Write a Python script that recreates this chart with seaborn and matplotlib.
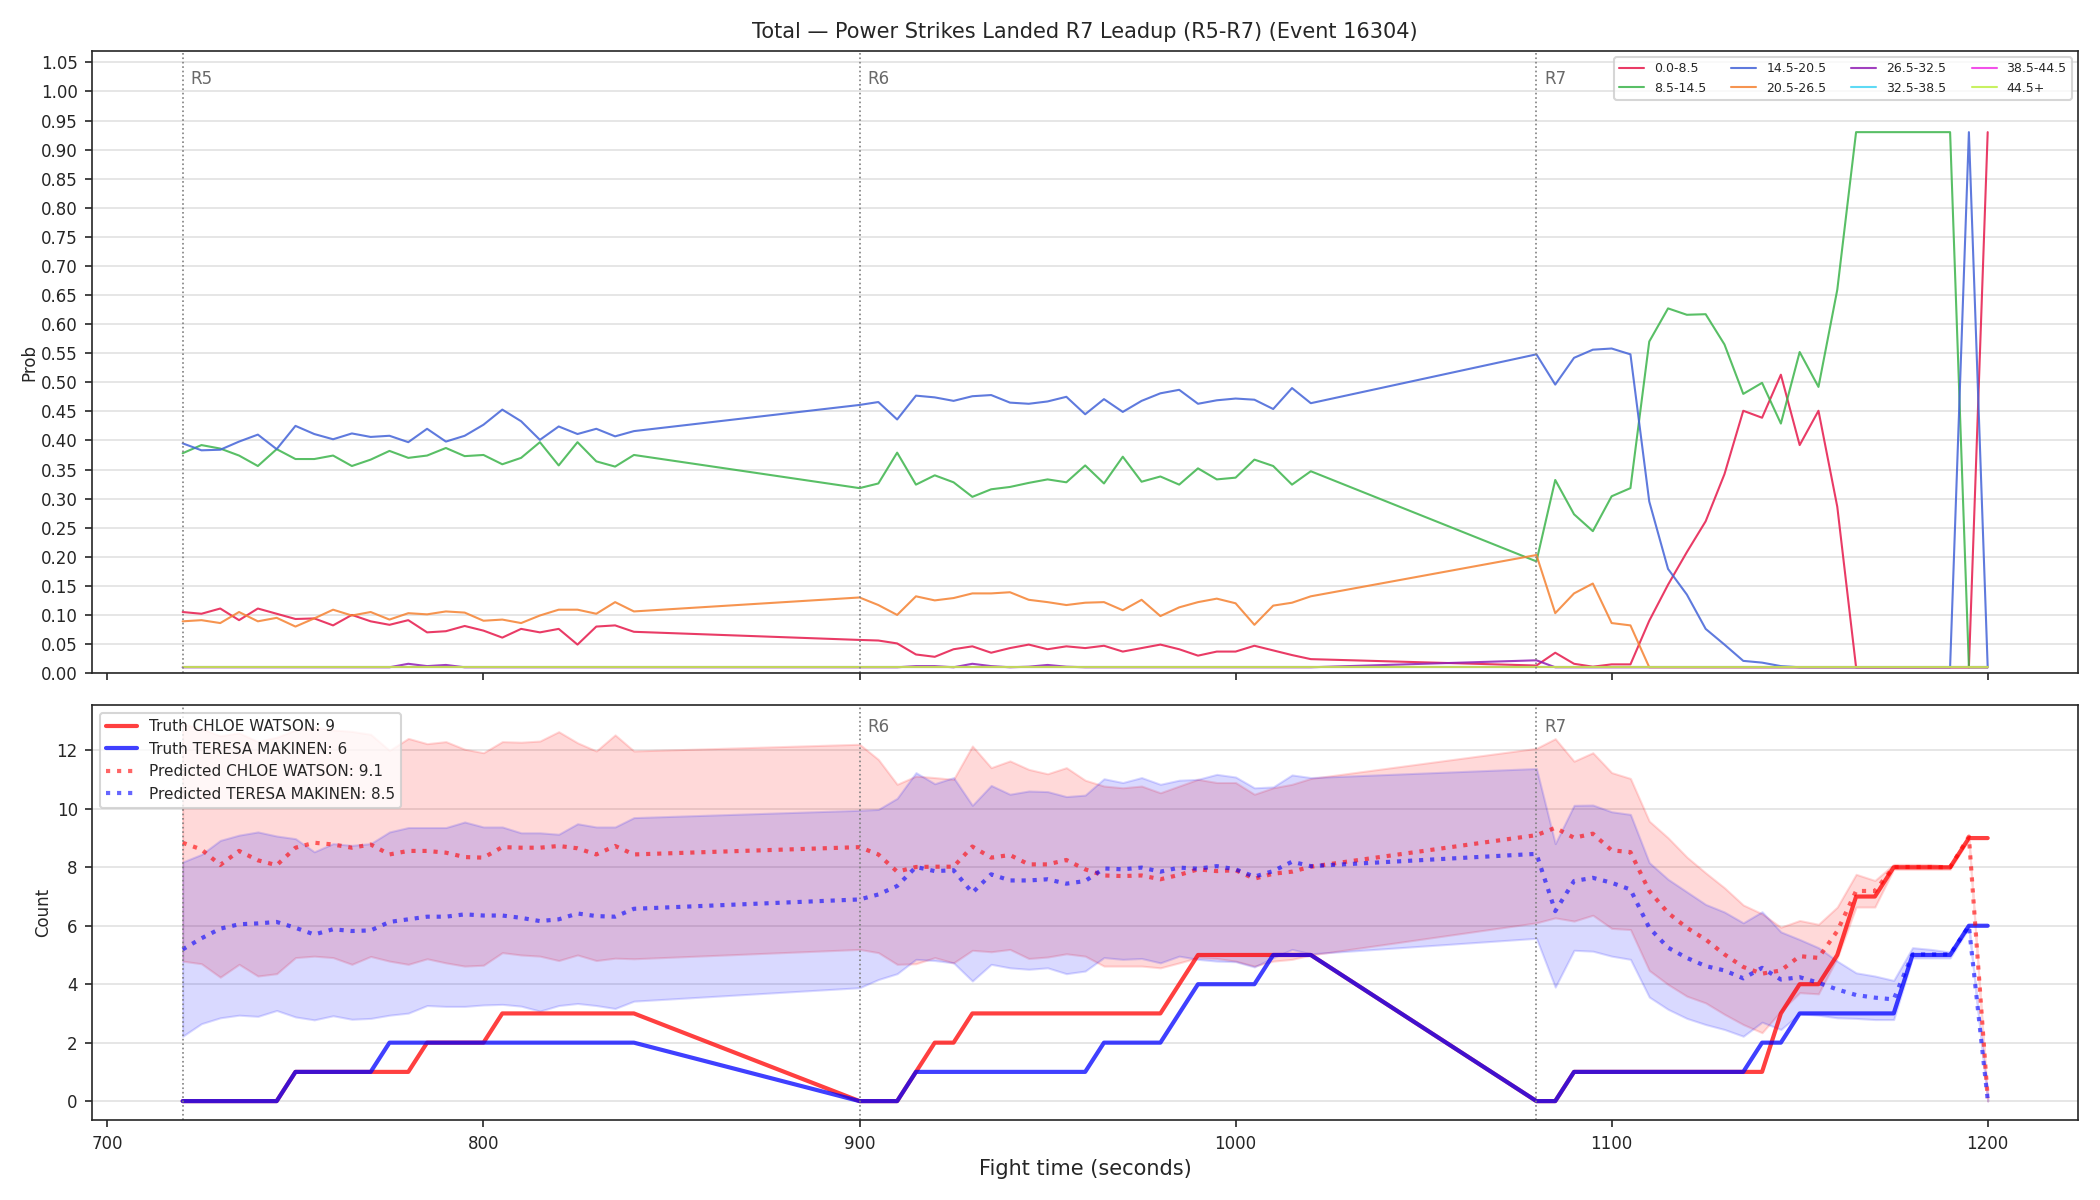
import numpy as np
import pandas as pd
import seaborn as sns
import matplotlib.pyplot as plt

# snapshot times (fight seconds) for rounds 5, 6 and 7
t_r5 = [720, 725, 730, 735, 740, 745, 750, 755, 760, 765, 770, 775, 780,
        785, 790, 795, 800, 805, 810, 815, 820, 825, 830, 835, 840]
t_r6 = [900, 905, 910, 915, 920, 925, 930, 935, 940, 945, 950, 955, 960,
        965, 970, 975, 980, 985, 990, 995, 1000, 1005, 1010, 1015, 1020]
t_r7 = [1080, 1085, 1090, 1095, 1100, 1105, 1110, 1115, 1120, 1125, 1130, 1135, 1140,
        1145, 1150, 1155, 1160, 1165, 1170, 1175, 1180, 1185, 1190, 1195, 1200]
times = t_r5 + t_r6 + t_r7

round_names = ["R5", "R6", "R7"]
round_starts = [720, 900, 1080]

# --- bin probabilities (top panel) ---
bins = ["0.0-8.5", "8.5-14.5", "14.5-20.5", "20.5-26.5",
        "26.5-32.5", "32.5-38.5", "38.5-44.5", "44.5+"]
bin_colors = ["#e6194b", "#3cb44b", "#4363d8", "#f58231",
              "#911eb4", "#42d4f4", "#f032e6", "#bfef45"]

p_0_8 = [0.105, 0.102, 0.111, 0.091, 0.111, 0.102, 0.093, 0.094, 0.082, 0.100, 0.089, 0.083, 0.091,
         0.070, 0.072, 0.081, 0.073, 0.061, 0.076, 0.070, 0.076, 0.049, 0.080, 0.082, 0.071,
         0.057, 0.056, 0.051, 0.032, 0.028, 0.041, 0.046, 0.035, 0.043, 0.049, 0.041, 0.046, 0.043,
         0.047, 0.037, 0.043, 0.049, 0.041, 0.030, 0.037, 0.037, 0.047, 0.039, 0.031, 0.024,
         0.013, 0.035, 0.016, 0.011, 0.015, 0.015, 0.090, 0.152, 0.208, 0.261, 0.342, 0.451, 0.439,
         0.513, 0.392, 0.451, 0.286, 0.010, 0.010, 0.010, 0.010, 0.010, 0.010, 0.010, 0.930]
p_8_14 = [0.378, 0.392, 0.386, 0.374, 0.356, 0.385, 0.368, 0.368, 0.374, 0.356, 0.367, 0.382, 0.370,
          0.374, 0.387, 0.373, 0.375, 0.359, 0.370, 0.397, 0.357, 0.397, 0.364, 0.355, 0.375,
          0.318, 0.326, 0.379, 0.324, 0.340, 0.328, 0.303, 0.316, 0.320, 0.327, 0.333, 0.328, 0.357,
          0.326, 0.372, 0.329, 0.338, 0.324, 0.352, 0.333, 0.336, 0.367, 0.356, 0.324, 0.347,
          0.192, 0.332, 0.273, 0.244, 0.304, 0.318, 0.570, 0.627, 0.616, 0.617, 0.565, 0.480, 0.499,
          0.429, 0.552, 0.492, 0.659, 0.930, 0.930, 0.930, 0.930, 0.930, 0.930, 0.010, 0.010]
p_14_20 = [0.395, 0.383, 0.384, 0.398, 0.410, 0.385, 0.425, 0.411, 0.402, 0.412, 0.406, 0.408, 0.397,
           0.420, 0.398, 0.408, 0.427, 0.453, 0.433, 0.401, 0.424, 0.411, 0.420, 0.407, 0.416,
           0.461, 0.466, 0.436, 0.477, 0.474, 0.468, 0.476, 0.478, 0.465, 0.463, 0.467, 0.475, 0.445,
           0.471, 0.449, 0.468, 0.481, 0.487, 0.463, 0.469, 0.472, 0.470, 0.454, 0.490, 0.464,
           0.548, 0.496, 0.542, 0.556, 0.558, 0.548, 0.295, 0.179, 0.135, 0.076, 0.049, 0.021, 0.018,
           0.012, 0.010, 0.010, 0.010, 0.010, 0.010, 0.010, 0.010, 0.010, 0.010, 0.930, 0.010]
p_20_26 = [0.089, 0.091, 0.086, 0.105, 0.089, 0.095, 0.080, 0.094, 0.109, 0.099, 0.105, 0.092, 0.103,
           0.101, 0.106, 0.104, 0.090, 0.092, 0.086, 0.099, 0.109, 0.109, 0.102, 0.122, 0.106,
           0.130, 0.117, 0.100, 0.132, 0.125, 0.129, 0.137, 0.137, 0.139, 0.126, 0.122, 0.117, 0.121,
           0.122, 0.108, 0.126, 0.098, 0.113, 0.122, 0.128, 0.120, 0.083, 0.116, 0.121, 0.132,
           0.203, 0.103, 0.137, 0.154, 0.086, 0.082, 0.010, 0.010, 0.010, 0.010, 0.010, 0.010, 0.010,
           0.010, 0.010, 0.010, 0.010, 0.010, 0.010, 0.010, 0.010, 0.010, 0.010, 0.010, 0.010]
p_26_32 = [0.010, 0.010, 0.010, 0.010, 0.010, 0.010, 0.010, 0.010, 0.010, 0.010, 0.010, 0.010, 0.016,
           0.012, 0.014, 0.010, 0.010, 0.010, 0.010, 0.010, 0.010, 0.010, 0.010, 0.010, 0.010,
           0.010, 0.010, 0.010, 0.012, 0.012, 0.010, 0.016, 0.012, 0.010, 0.011, 0.014, 0.011, 0.010,
           0.010, 0.010, 0.010, 0.010, 0.010, 0.010, 0.010, 0.010, 0.010, 0.010, 0.010, 0.010,
           0.022, 0.010, 0.010, 0.010, 0.010, 0.010, 0.010, 0.010, 0.010, 0.010, 0.010, 0.010, 0.010,
           0.010, 0.010, 0.010, 0.010, 0.010, 0.010, 0.010, 0.010, 0.010, 0.010, 0.010, 0.010]
# the three highest bins sit flat on the 0.01 floor the whole time
p_32_38 = [0.01] * len(times)
p_38_44 = [0.01] * len(times)
p_44_up = [0.01] * len(times)

# --- counts (bottom panel) ---
truth_chloe = [0, 0, 0, 0, 0, 0, 1, 1, 1, 1, 1, 1, 1, 2, 2, 2, 2, 3, 3, 3, 3, 3, 3, 3, 3,
               0, 0, 0, 1, 2, 2, 3, 3, 3, 3, 3, 3, 3, 3, 3, 3, 3, 4, 5, 5, 5, 5, 5, 5, 5,
               0, 0, 1, 1, 1, 1, 1, 1, 1, 1, 1, 1, 1, 3, 4, 4, 5, 7, 7, 8, 8, 8, 8, 9, 9]
truth_teresa = [0, 0, 0, 0, 0, 0, 1, 1, 1, 1, 1, 2, 2, 2, 2, 2, 2, 2, 2, 2, 2, 2, 2, 2, 2,
                0, 0, 0, 1, 1, 1, 1, 1, 1, 1, 1, 1, 1, 2, 2, 2, 2, 3, 4, 4, 4, 4, 5, 5, 5,
                0, 0, 1, 1, 1, 1, 1, 1, 1, 1, 1, 1, 2, 2, 3, 3, 3, 3, 3, 3, 5, 5, 5, 6, 6]
pred_chloe = [8.84, 8.61, 8.08, 8.56, 8.24, 8.07, 8.67, 8.84, 8.78, 8.67, 8.78, 8.44, 8.56,
              8.56, 8.50, 8.35, 8.33, 8.69, 8.67, 8.67, 8.73, 8.65, 8.44, 8.73, 8.44,
              8.69, 8.44, 7.85, 8.01, 8.02, 8.02, 8.71, 8.33, 8.42, 8.10, 8.10, 8.25, 7.93,
              7.72, 7.70, 7.72, 7.59, 7.74, 7.93, 7.87, 7.90, 7.61, 7.78, 7.85, 8.02,
              9.10, 9.35, 9.01, 9.15, 8.58, 8.52, 7.19, 6.44, 5.93, 5.53, 5.02, 4.59, 4.36,
              4.47, 4.96, 4.90, 5.82, 7.19, 7.19, 8.01, 8.01, 8.01, 8.00, 9.05, 0.10]
pred_teresa = [5.19, 5.57, 5.90, 6.05, 6.08, 6.13, 5.93, 5.70, 5.88, 5.82, 5.84, 6.13, 6.22,
               6.31, 6.31, 6.39, 6.35, 6.35, 6.27, 6.16, 6.22, 6.42, 6.33, 6.31, 6.58,
               6.90, 7.07, 7.36, 8.01, 7.87, 7.90, 7.13, 7.76, 7.55, 7.55, 7.59, 7.44, 7.53,
               7.96, 7.93, 7.99, 7.85, 7.99, 7.95, 8.04, 7.93, 7.68, 7.87, 8.19, 8.04,
               8.46, 6.50, 7.53, 7.64, 7.47, 7.24, 5.93, 5.25, 4.90, 4.62, 4.47, 4.20, 4.56,
               4.16, 4.24, 4.05, 3.82, 3.63, 3.54, 3.48, 5.02, 5.02, 5.02, 5.99, 0.05]
chloe_hi = [12.90, 12.75, 12.50, 12.60, 12.30, 12.45, 12.70, 12.80, 12.70, 12.65, 12.55, 12.00, 12.41,
            12.23, 12.30, 12.04, 11.92, 12.30, 12.28, 12.32, 12.64, 12.26, 11.98, 12.53, 11.98,
            12.21, 11.69, 10.84, 11.12, 11.07, 11.01, 12.15, 11.41, 11.64, 11.35, 11.20, 11.41, 10.98,
            10.78, 10.72, 10.78, 10.55, 10.78, 11.01, 10.90, 10.90, 10.50, 10.72, 10.84, 11.04,
            12.07, 12.40, 11.63, 11.92, 11.24, 11.04, 9.58, 9.01, 8.35, 7.81, 7.30, 6.71, 6.41,
            5.95, 6.18, 6.05, 6.64, 7.76, 7.55, 8.10, 8.10, 8.10, 8.04, 9.01, 0.06]
chloe_lo = [4.79, 4.70, 4.24, 4.68, 4.28, 4.36, 4.91, 4.96, 4.91, 4.68, 4.95, 4.79, 4.68,
            4.87, 4.73, 4.62, 4.65, 5.08, 5.00, 4.96, 4.81, 5.00, 4.81, 4.89, 4.87,
            5.19, 5.08, 4.68, 4.70, 4.91, 4.73, 5.16, 5.11, 5.19, 4.88, 4.93, 5.04, 4.96,
            4.62, 4.62, 4.62, 4.56, 4.73, 4.91, 4.88, 4.79, 4.62, 4.79, 4.85, 5.00,
            6.10, 6.27, 6.16, 6.36, 5.91, 5.87, 4.47, 3.99, 3.59, 3.36, 2.97, 2.62, 2.34,
            3.08, 3.71, 3.67, 4.90, 6.64, 6.64, 7.93, 7.93, 7.93, 7.93, 8.95, 0.00]
teresa_hi = [8.18, 8.44, 8.92, 9.10, 9.21, 9.07, 8.98, 8.53, 8.81, 8.75, 8.81, 9.21, 9.36,
             9.36, 9.36, 9.55, 9.38, 9.38, 9.18, 9.18, 9.13, 9.49, 9.38, 9.38, 9.70,
             9.95, 9.98, 10.36, 11.24, 10.86, 11.07, 10.12, 10.80, 10.50, 10.61, 10.59, 10.42, 10.47,
             11.03, 10.90, 11.07, 10.84, 10.98, 11.01, 11.18, 11.09, 10.72, 10.75, 11.16, 11.07,
             11.38, 8.81, 10.12, 10.13, 9.90, 9.81, 8.16, 7.59, 7.16, 6.73, 6.47, 6.10, 6.48,
             5.79, 5.53, 5.25, 4.79, 4.39, 4.28, 4.13, 5.25, 5.19, 5.10, 6.01, 0.06]
teresa_lo = [2.22, 2.65, 2.85, 2.94, 2.90, 3.10, 2.88, 2.78, 2.92, 2.80, 2.83, 2.94, 3.01,
             3.27, 3.24, 3.24, 3.29, 3.31, 3.25, 3.08, 3.27, 3.34, 3.27, 3.17, 3.42,
             3.88, 4.16, 4.36, 4.85, 4.81, 4.73, 4.11, 4.68, 4.56, 4.51, 4.56, 4.36, 4.45,
             4.91, 4.85, 4.88, 4.73, 4.96, 4.85, 4.79, 4.77, 4.59, 4.91, 5.19, 5.04,
             5.57, 3.90, 5.16, 5.13, 4.96, 4.85, 3.56, 3.14, 2.83, 2.62, 2.45, 2.22, 2.70,
             2.45, 2.99, 2.94, 2.85, 2.83, 2.79, 2.79, 4.90, 4.90, 4.90, 5.93, 0.00]

legend_truth = ["Truth CHLOE WATSON: 9", "Truth TERESA MAKINEN: 6"]
legend_pred = ["Predicted CHLOE WATSON: 9.1", "Predicted TERESA MAKINEN: 8.5"]

# ------------------------------------------------------------------
sns.set_style("ticks")
plt.rcParams["font.family"] = ["DejaVu Sans"]

fig, (ax1, ax2) = plt.subplots(2, 1, figsize=(14, 8), dpi=150, sharex=True,
                               gridspec_kw={"height_ratios": [3, 2]})
fig.subplots_adjust(left=0.044, right=0.9895, top=0.9575, bottom=0.0667, hspace=0.062)

# top: bin probabilities
series = [p_0_8, p_8_14, p_14_20, p_20_26, p_26_32, p_32_38, p_38_44, p_44_up]
long = pd.DataFrame({
    "time": times * len(bins),
    "prob": sum(series, []),
    "bin": [b for b in bins for _ in times],
})
sns.lineplot(data=long, x="time", y="prob", hue="bin", hue_order=bins,
             palette=dict(zip(bins, bin_colors)), linewidth=1.0, alpha=0.85, ax=ax1)
ax1.set_ylim(0, max(max(s) for s in series) * 1.15)
ax1.set_yticks(np.arange(0, 1.051, 0.05))
ax1.yaxis.set_major_formatter(plt.FormatStrFormatter("%.2f"))
ax1.set_ylabel("Prob", fontsize=8, labelpad=1)
ax1.set_xlabel("")
ax1.set_title("Total — Power Strikes Landed R7 Leadup (R5-R7) (Event 16304)", fontsize=10)
ax1.legend(ncol=4, fontsize=6, loc="upper right")

# bottom: counts with prediction bands
ax2.fill_between(times, chloe_lo, chloe_hi, color="red", alpha=0.15, linewidth=1)
ax2.fill_between(times, teresa_lo, teresa_hi, color="blue", alpha=0.15, linewidth=1)
sns.lineplot(x=times, y=truth_chloe, color="red", alpha=0.75, linewidth=2,
             label=legend_truth[0], ax=ax2)
sns.lineplot(x=times, y=truth_teresa, color="blue", alpha=0.75, linewidth=2,
             label=legend_truth[1], ax=ax2)
sns.lineplot(x=times, y=pred_chloe, color="red", alpha=0.6, linewidth=2, linestyle=":",
             label=legend_pred[0], ax=ax2)
sns.lineplot(x=times, y=pred_teresa, color="blue", alpha=0.6, linewidth=2, linestyle=":",
             label=legend_pred[1], ax=ax2)
ax2.set_yticks([0, 2, 4, 6, 8, 10, 12])
ax2.set_ylabel("Count", fontsize=8, labelpad=2)
ax2.set_xlabel("Fight time (seconds)", fontsize=10, labelpad=3)
ax2.legend(loc="upper left", fontsize=7.3)

for ax in (ax1, ax2):
    ax.grid(axis="y", color="#e2e2e2", linewidth=0.8)
    ax.set_axisbelow(True)
    ax.tick_params(labelsize=8)
    for name, start in zip(round_names, round_starts):
        ax.axvline(start, color="gray", linestyle=":", linewidth=0.8)
        # the R5 tag on the count panel sits under the legend box, so it is not drawn
        if ax is ax2 and start == round_starts[0]:
            continue
        ax.text(start + 2, 0.97, name, transform=ax.get_xaxis_transform(),
                va="top", ha="left", color="dimgray", fontsize=8)

ax2.set_xticks([700, 800, 900, 1000, 1100, 1200])

fig.savefig("out.png", dpi=150)
